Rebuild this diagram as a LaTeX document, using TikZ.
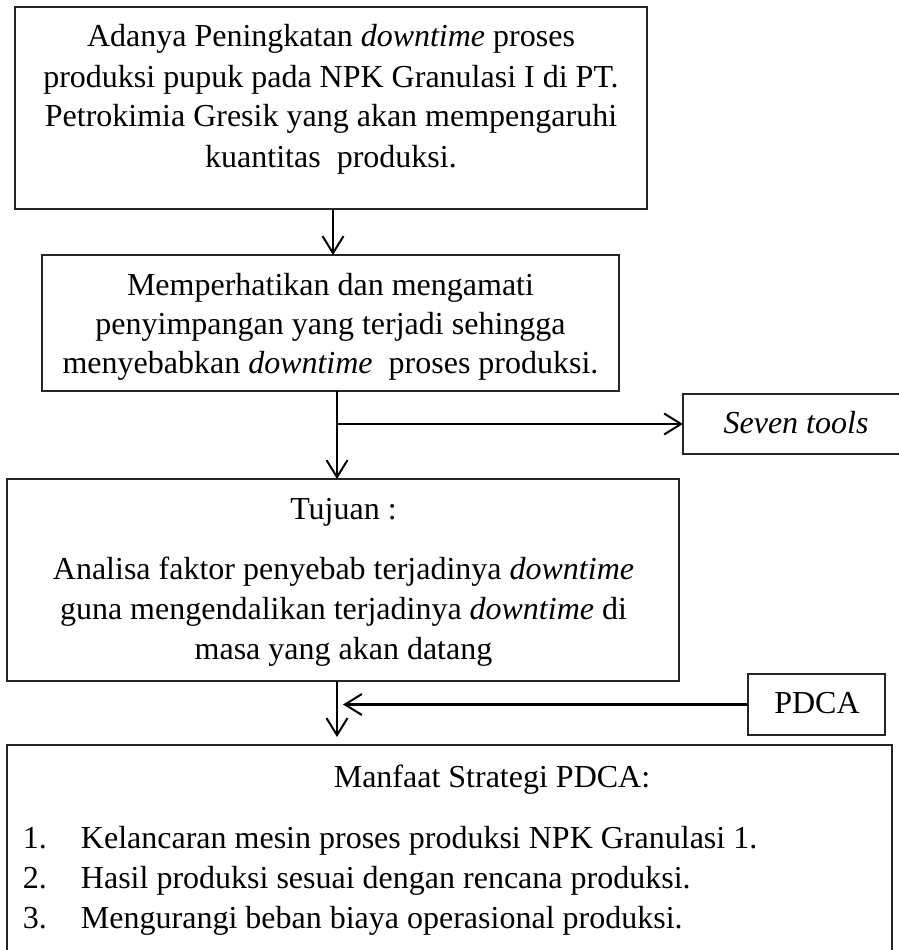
\documentclass[tikz,border=0pt]{standalone}
\usepackage{fontspec}
\setmainfont{Liberation Serif}
\usetikzlibrary{arrows.meta}
\tikzset{
  box/.style={draw=black!85, line width=1.4pt, inner sep=0pt, outer sep=0pt, fill=none},
  arr/.style={draw=black, line width=2.2pt, -{Straight Barb[length=17pt, width=21pt, line width=2pt]}},
  txt/.style={anchor=base, inner sep=0pt, outer sep=0pt, font=\fontsize{32}{40}\selectfont}
}
\begin{document}
\begin{tikzpicture}[x=1pt,y=1pt]
\useasboundingbox (0,0) rectangle (899,-950);
% boxes
\node[box, minimum width=632pt, minimum height=202pt] (b1) at (331,-108) {};
\node[box, minimum width=577pt, minimum height=136pt] (b2) at (330.5,-323) {};
\node[box, minimum width=227pt, minimum height=60pt] (b7) at (796.5,-424) {};
\node[box, minimum width=672pt, minimum height=202pt] (b3) at (343,-580) {};
\node[box, minimum width=137pt, minimum height=61pt] (bp) at (816.5,-704.5) {};
\node[box, minimum width=885pt, minimum height=215pt] (b4) at (449.5,-852.5) {};
% texts
\node[txt] (t1) at (331,-47) {\begin{tabular}[t]{@{}c@{}}
Adanya Peningkatan \textit{downtime} proses\\
produksi pupuk pada NPK Granulasi I di PT.\\
Petrokimia Gresik yang akan mempengaruhi\\
kuantitas\ \ produksi.
\end{tabular}};
\node[txt, font=\fontsize{32}{39}\selectfont] (t2) at (330.5,-295) {\begin{tabular}[t]{@{}c@{}}
Memperhatikan dan mengamati\\
penyimpangan yang terjadi sehingga\\
menyebabkan \textit{downtime}\ \ proses produksi.
\end{tabular}};
\node[txt] (t7) at (796,-433) {\textit{Seven tools}};
\node[txt] (t3) at (343.5,-519) {\begin{tabular}[t]{@{}c@{}}
Tujuan :\\[20pt]
Analisa faktor penyebab terjadinya \textit{downtime}\\
guna mengendalikan terjadinya \textit{downtime} di\\
masa yang akan datang
\end{tabular}};
\node[txt] (tp) at (817,-713) {PDCA};
\node[txt] (t4) at (492,-787) {Manfaat Strategi PDCA:};
\node[txt, anchor=base west] (t5) at (23,-848) {\begin{tabular}[t]{@{}l@{\hspace{34pt}}l@{}}
1. & Kelancaran mesin proses produksi NPK Granulasi 1.\\
2. & Hasil produksi sesuai dengan rencana produksi.\\
3. & Mengurangi beban biaya operasional produksi.
\end{tabular}};
% connectors
\draw[arr] ([xshift=2pt]b1.south) -- ([xshift=2pt]b1.south |- b2.north);
\draw[line width=2.2pt] ([xshift=6.5pt]b2.south) -- ([xshift=6.5pt]b2.south |- b7.west) coordinate (j);
\draw[arr] ([xshift=6.5pt]b2.south |- b7.west) -- ([xshift=6.5pt]b2.south |- b3.north);
\draw[arr] (j) -- (b7.west);
\coordinate (a3end) at (337,-737);
\draw[arr] ([xshift=-6pt]b3.south) -- (a3end);
\coordinate (pj) at (343,-704.5);
\draw[arr] (bp.west) -- (pj);
\end{tikzpicture}
\end{document}
